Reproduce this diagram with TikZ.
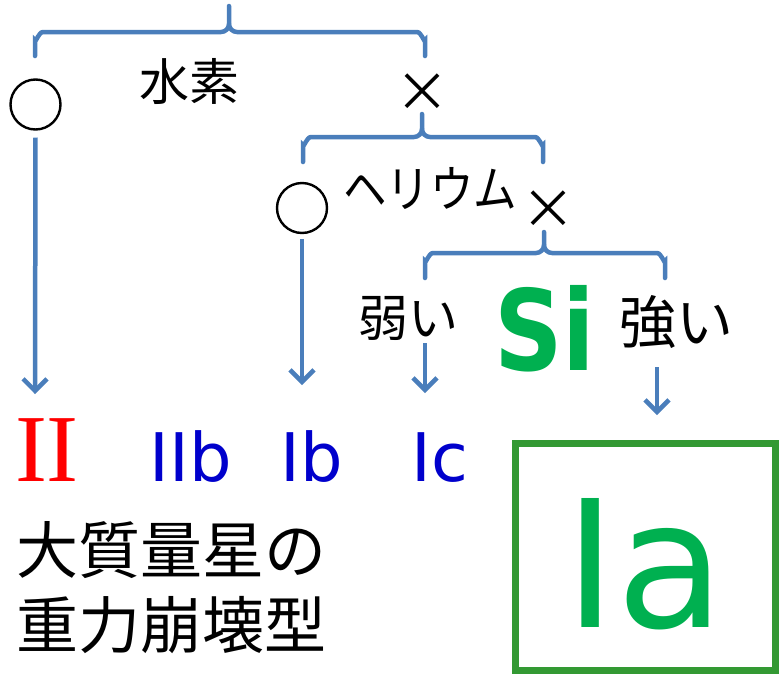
\documentclass[tikz,border=0pt]{standalone}
\usepackage{fontspec}
\setmainfont{DejaVu Sans}
\newfontfamily\jp{Noto Sans CJK JP}
\newfontfamily\lat{DejaVu Sans}
\newfontfamily\ser{Liberation Serif}
\usetikzlibrary{arrows.meta}
\definecolor{lblue}{HTML}{4A7EBB}
\definecolor{tblue}{HTML}{0000CC}
\definecolor{tgreen}{HTML}{00B050}
\definecolor{bgreen}{HTML}{339933}
\tikzset{
  conn/.style={draw=lblue, line width=4.5pt},
  arr/.style={conn, -{Straight Barb[length=12pt,width=24pt,line width=4.5pt]}},
  okcirc/.style={circle, draw=black, line width=2.4pt, minimum size=50pt, inner sep=0pt},
  jptext/.style={inner sep=0pt, font=\jp\fontsize{50}{60}\selectfont},
  crossmark/.style={inner sep=0pt, font=\jp\fontsize{54}{60}\selectfont},
  typ/.style={inner sep=0pt, anchor=base, text=tblue, font=\lat\fontsize{67}{70}\selectfont},
}
\begin{document}
\begin{tikzpicture}[x=1pt,y=-1pt]
\useasboundingbox (0,0) rectangle (780,678);

% top brace
\coordinate (top0) at (229,6);
\coordinate (b1L) at (35,56);
\coordinate (b1R) at (425,56);
\draw[conn, line cap=round] (b1L) -- (35,40) to[out=-90,in=180] (43,32) -- (221,32) to[out=0,in=-90] (229,24) -- (top0);
\draw[conn, line cap=round] (b1R) -- (425,40) to[out=-90,in=0] (417,32) -- (237,32) to[out=180,in=-90] (229,24);

% level 1
\node[okcirc] (o1) at (35.5,104.5) {};
\node[jptext] (h) at (189,81) {水素};
\node[crossmark] (x1) at (422,93) {×};

% second brace
\coordinate (b2L) at (303,162);
\coordinate (b2R) at (543,162);
\draw[conn, line cap=round] (b2L) -- (303,145) to[out=-90,in=180] (311,137) -- (414,137) to[out=0,in=-90] (422,129) -- (422,114);
\draw[conn, line cap=round] (b2R) -- (543,145) to[out=-90,in=0] (535,137) -- (430,137) to[out=180,in=-90] (422,129);

% level 2
\node[okcirc] (o2) at (302,208) {};
\node[jptext] (he) at (430,188) {\scalebox{0.87}[1]{ヘリウム}};
\node[crossmark] (x2) at (548,210) {×};

% third brace
\coordinate (b3L) at (425,278);
\coordinate (b3R) at (665,278);
\draw[conn, line cap=round] (b3L) -- (425,261) to[out=-90,in=180] (433,253) -- (536,253) to[out=0,in=-90] (544,245) -- (544,232);
\draw[conn, line cap=round] (b3R) -- (665,261) to[out=-90,in=0] (657,253) -- (552,253) to[out=180,in=-90] (544,245);

% level 3
\node[jptext, font=\jp\fontsize{50}{60}\selectfont] (weak) at (408,318) {弱い};
\node[inner sep=0pt, anchor=base, text=tgreen, font=\lat\bfseries\fontsize{112}{120}\selectfont] (si) at (545,370) {\scalebox{0.85}[1]{Si}};
\node[jptext, font=\jp\fontsize{57}{60}\selectfont] (strong) at (676,322) {強い};

% types
\node[inner sep=0pt, anchor=base, text=red, font=\ser\fontsize{96}{100}\selectfont] (II) at (47,481) {II};
\node[typ] (IIb) at (191,481) {IIb};
\node[typ] (Ib) at (312,481) {Ib};
\node[typ] (Ic) at (440,481) {Ic};

\coordinate (a1) at (35,394);
\coordinate (a2) at (302,385);
\coordinate (a3) at (425,393);
\coordinate (a4s) at (657,367);
\coordinate (a4) at (657,415);
\draw[arr] ([yshift=-7pt]o1.south) -- (a1);
\draw[arr] ([yshift=-5pt]o2.south) -- (a2);
\draw[arr] ([yshift=-3pt]weak.south -| b3L) -- (a3);
\draw[arr] (a4s) -- (a4);

% Ia box
\node[draw=bgreen, line width=6.5pt, minimum width=260pt, minimum height=227pt, inner sep=0pt] (box) at (645.5,557) {};
\node[inner sep=0pt, anchor=base, text=tgreen, font=\lat\fontsize{177}{180}\selectfont] (Ia) at (645,627) {Ia};

% bottom text
\node[jptext, anchor=west, font=\jp\fontsize{62}{70}\selectfont] (l1) at (16,550) {大質量星の};
\node[jptext, anchor=west, font=\jp\fontsize{62}{70}\selectfont] (l2) at (16,625) {重力崩壊型};
\end{tikzpicture}
\end{document}
